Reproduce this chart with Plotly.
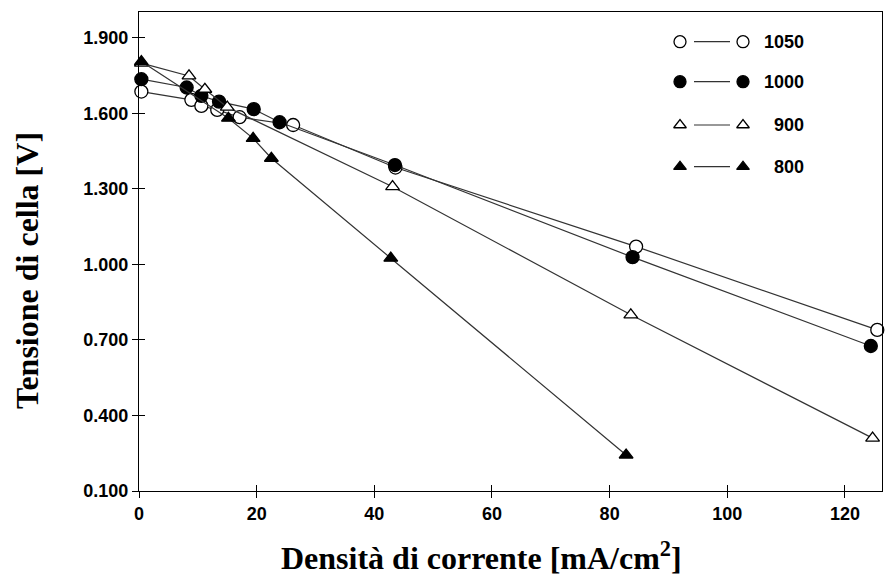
import plotly.graph_objects as go

# ---- data ----
x_1050 = [0.4, 8.9, 10.6, 13.3, 17.1, 26.2, 43.6, 84.5, 125.5]
y_1050 = [1.687, 1.654, 1.630, 1.614, 1.585, 1.554, 1.385, 1.071, 0.740]

x_1000 = [0.4, 8.1, 10.6, 13.6, 19.5, 23.9, 43.5, 83.9, 124.4]
y_1000 = [1.736, 1.703, 1.670, 1.647, 1.617, 1.565, 1.395, 1.029, 0.676]

x_900 = [0.4, 8.5, 11.2, 15.0, 43.1, 83.6, 124.7]
y_900 = [1.800, 1.749, 1.696, 1.625, 1.309, 0.800, 0.310]

x_800 = [0.4, 15.2, 19.4, 22.5, 42.8, 82.8]
y_800 = [1.806, 1.581, 1.501, 1.422, 1.025, 0.243]

series_names = ["1050", "1000", "900", "800"]
x_ticks = [0, 20, 40, 60, 80, 100, 120]
y_ticks = [0.1, 0.4, 0.7, 1.0, 1.3, 1.6, 1.9]
y_tick_labels = ["0.100", "0.400", "0.700", "1.000", "1.300", "1.600", "1.900"]
x_title = "Densità di corrente [mA/cm<sup>2</sup>]"
y_title = "Tensione di cella [V]"

# ---- layout geometry (pixels) ----
L, R, T, B = 139, 882, 12, 491


def px_to_paper(px, py):
    return (px - L) / (R - L), (B - py) / (B - T)


# ---- styles ----
styles = {
    "1050": dict(symbol="circle", color="white", size=13),
    "1000": dict(symbol="circle", color="black", size=13),
    "900": dict(symbol="triangle-up", color="white", size=12),
    "800": dict(symbol="triangle-up", color="black", size=12),
}
data = {"1050": (x_1050, y_1050), "1000": (x_1000, y_1000),
        "900": (x_900, y_900), "800": (x_800, y_800)}

fig = go.Figure()
for name in series_names:
    xs, ys = data[name]
    st = styles[name]
    fig.add_trace(go.Scatter(
        x=xs, y=ys, mode="lines+markers", name=name, showlegend=False,
        line=dict(color="#333333", width=1.2),
        marker=dict(symbol=st["symbol"], size=st["size"], color=st["color"],
                    line=dict(color="black", width=1.3)),
        cliponaxis=False,
    ))

# ---- custom legend (pixel-like overlay axis) ----
leg_rows = [41.7, 81.7, 125.0, 166.7]
for name, yy in zip(series_names, leg_rows):
    st = styles[name]
    fig.add_trace(go.Scatter(
        x=[694, 730], y=[yy, yy], mode="lines", xaxis="x2", yaxis="y2",
        line=dict(color="#333333", width=1.2), showlegend=False, hoverinfo="skip"))
    fig.add_trace(go.Scatter(
        x=[680, 743], y=[yy, yy], mode="markers", xaxis="x2", yaxis="y2",
        marker=dict(symbol=st["symbol"], size=st["size"] - 1, color=st["color"],
                    line=dict(color="black", width=1.3)),
        showlegend=False, hoverinfo="skip", cliponaxis=False))
    fig.add_annotation(x=806, y=yy, xref="x2", yref="y2", text=name, showarrow=False,
                       xanchor="right", yanchor="middle",
                       font=dict(family="Arial, Liberation Sans", size=18, color="black", weight="bold"))

tick_font = dict(family="Arial, Liberation Sans", size=18, color="black", weight="bold")
title_font = dict(family="Times New Roman, Liberation Serif", size=32, color="black", weight="bold")

# axis titles as paper-anchored annotations
xt_x, xt_y = px_to_paper(481, 556)
yt_x, yt_y = px_to_paper(27, 271)
fig.add_annotation(x=xt_x, y=xt_y, xref="paper", yref="paper", text=x_title, showarrow=False,
                   xanchor="center", yanchor="middle", font=title_font)
fig.add_annotation(x=yt_x, y=yt_y, xref="paper", yref="paper", text=y_title, showarrow=False,
                   textangle=-90, xanchor="center", yanchor="middle", font=title_font)

fig.update_layout(
    width=896, height=576,
    margin=dict(l=L, r=896 - R, t=T, b=576 - B),
    paper_bgcolor="white", plot_bgcolor="white",
    xaxis=dict(range=[0, 126.3], tickvals=x_ticks, ticktext=[str(v) for v in x_ticks],
               showgrid=False, zeroline=False, showline=True, linecolor="black", linewidth=1.2,
               mirror=True, ticks="outside", ticklen=6, tickwidth=1, tickcolor="black",
               tickfont=tick_font),
    yaxis=dict(range=[0.1, 2.003], tickvals=y_ticks, ticktext=y_tick_labels,
               showgrid=False, zeroline=False, showline=True, linecolor="black", linewidth=1.2,
               mirror=True, ticks="outside", ticklen=6, tickwidth=1, tickcolor="black",
               tickfont=tick_font),
    xaxis3=dict(overlaying="x", matches="x", tickvals=x_ticks, ticks="inside", ticklen=6,
                tickcolor="black", showticklabels=False, showgrid=False, zeroline=False, showline=False),
    yaxis3=dict(overlaying="y", matches="y", tickvals=y_ticks, ticks="inside", ticklen=6,
                tickcolor="black", showticklabels=False, showgrid=False, zeroline=False, showline=False),
    xaxis2=dict(overlaying="x", range=[L, R], visible=False, fixedrange=True),
    yaxis2=dict(overlaying="y", range=[B, T], visible=False, fixedrange=True),
)
# dummy trace to activate the inside-tick overlay axes
fig.add_trace(go.Scatter(x=[None], y=[None], xaxis="x3", yaxis="y3", showlegend=False))

fig.write_html("out.html", config={"displayModeBar": False},
               post_script="document.body.style.margin='0px';")
